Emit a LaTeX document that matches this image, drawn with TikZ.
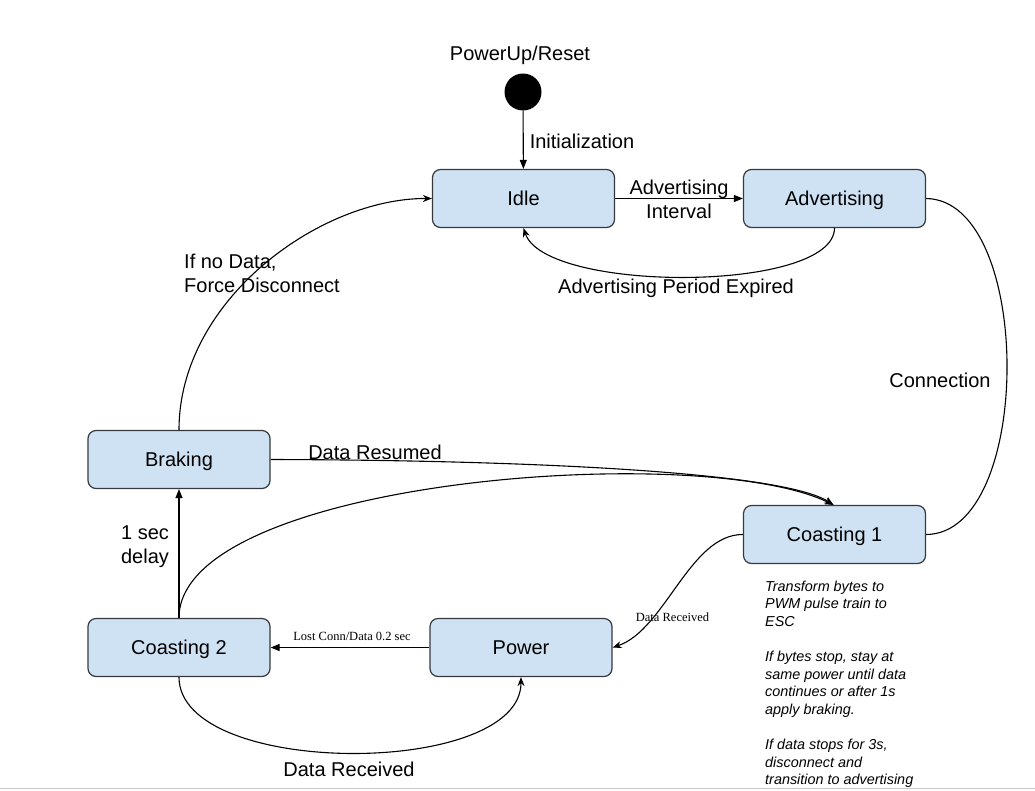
\documentclass[tikz,border=0pt]{standalone}
\usepackage{fontspec}
\setmainfont{Liberation Sans}
\newfontfamily\serifsmall{Liberation Serif}
\usetikzlibrary{arrows.meta}
\definecolor{stfill}{RGB}{207,226,243}
\definecolor{stdraw}{RGB}{54,57,61}
\begin{document}
\begin{tikzpicture}[x=1pt,y=-1pt,
  state/.style={draw=stdraw, fill=stfill, rounded corners=8pt, minimum width=182pt, minimum height=58pt, line width=1.2pt, font=\fontsize{20}{24}\selectfont, inner sep=0pt, text height=13pt, text depth=0pt},
  lbl/.style={font=\fontsize{20}{24}\selectfont, inner sep=0pt},
  slbl/.style={font=\serifsmall\fontsize{12.5}{15}\selectfont, inner sep=0pt},
  notel/.style={font=\itshape\fontsize{14.4}{17.6}\selectfont, inner sep=0pt, anchor=base west},
  edge/.style={line width=1.1pt, draw=black},
  tip/.style={-{Stealth[length=9pt,width=7pt]}},
  btip/.style={-{Triangle[length=9pt,width=7pt]}},
]
\fill[white] (0,0) rectangle (1035,790);
\useasboundingbox (0,0) rectangle (1035,790);
\draw[black!22, line width=1.6pt] (0,788.5) -- (1035,788.5);

% states
\node[circle, fill=black, minimum size=37pt, inner sep=0pt] (start) at (523,92) {};
\node[lbl] (pu) at (520,55) {PowerUp/Reset};
\node[state] (idle) at (523.5,198.5) {Idle};
\node[state] (adv) at (834.5,198.5) {Advertising};
\node[state] (brk) at (179,459.5) {Braking};
\node[state] (c1) at (834.5,534.5) {Coasting 1};
\node[state] (c2) at (179,647.5) {Coasting 2};
\node[state] (pow) at (521,647.5) {Power};

% connectors
\draw[edge,btip] (start) -- (idle);
\draw[edge,btip] (idle) -- (adv);
\draw[edge,tip] (adv.south) .. controls (834,293) and (545,293) .. (idle.south);
\draw[edge] (adv.east) .. controls (1034,200) and (1034,534) .. (c1.east);
\draw[edge,tip] (brk.north) .. controls (179,300) and (320,198) .. (idle.west);
\draw[edge,tip] (brk.east) .. controls (500,460) and (780,470) .. ([xshift=-1pt]c1.north);
\draw[edge,tip] (c2.north) .. controls (179,480) and (700,440) .. ([xshift=-1pt]c1.north);
\draw[edge,btip] (c2) -- (brk);
\draw[edge,btip] (pow) -- (c2);
\draw[edge,tip] (c1.west) .. controls (690,534) and (665,630) .. (pow.east);
\draw[edge,tip] (c2.south) .. controls (179,778) and (521,778) .. (pow.south);

% labels
\node[lbl] (linit) at (582,141) {Initialization};
\node[lbl, align=center] (lai) at (679,199.5) {Advertising\\Interval};
\node[lbl] (lape) at (676,288) {Advertising Period Expired};
\node[lbl] (lcon) at (940,380) {Connection};
\node[lbl, align=left, anchor=west] (lnod) at (184,273) {If no Data,\\Force Disconnect};
\node[lbl] (ldr) at (375,452) {Data Resumed};
\node[lbl, align=center] (lsec) at (145,547) {1 sec\\delay};
\node[slbl] (llost) at (352,636.5) {Lost Conn/Data 0.2 sec};
\node[slbl] (ldrs) at (672.5,617) {Data Received};
\node[lbl] (ldrb) at (349,769.5) {Data Received};

% note
\node[notel] (n1) at (765,591) {Transform bytes to};
\node[notel] (n2) at (765,608.6) {PWM pulse train to};
\node[notel] (n3) at (765,626.2) {ESC};
\node[notel] (n4) at (765,661.4) {If bytes stop, stay at};
\node[notel] (n5) at (765,679) {same power until data};
\node[notel] (n6) at (765,696.6) {continues or after 1s};
\node[notel] (n7) at (765,714.2) {apply braking.};
\node[notel] (n8) at (765,749.4) {If data stops for 3s,};
\node[notel] (n9) at (765,767) {disconnect and};
\node[notel] (n10) at (765,784.6) {transition to advertising};
\end{tikzpicture}
\end{document}
